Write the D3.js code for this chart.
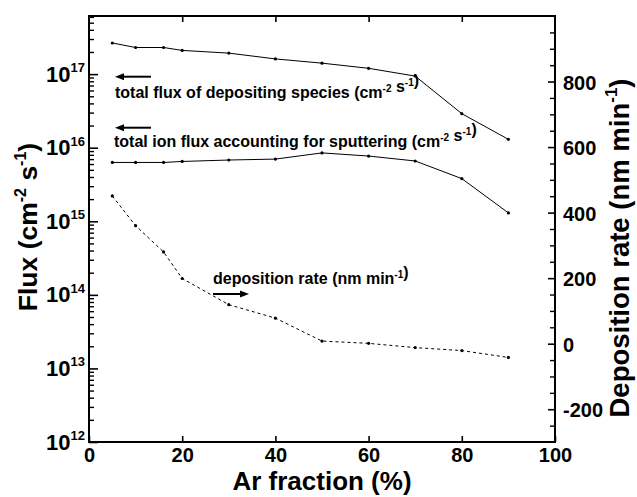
<!DOCTYPE html>
<html>
<head>
<meta charset="utf-8">
<script src="https://cdn.jsdelivr.net/npm/d3@7/dist/d3.min.js"></script>
<style>
  html, body { margin: 0; padding: 0; background: #fff; }
  svg { display: block; font-family: "Liberation Sans", Arial, sans-serif; font-weight: bold; }
</style>
</head>
<body>
<svg id="chart" width="637" height="497"></svg>
<script>
// Ar fraction (%) of each measurement
const arFraction = [5, 10, 16, 20, 30, 40, 50, 60, 70, 80, 90];
// total flux of depositing species (cm^-2 s^-1), left log axis
const depositingFlux = [2.65e17, 2.3e17, 2.3e17, 2.1e17, 1.93e17, 1.61e17, 1.41e17, 1.2e17, 9.4e16, 2.9e16, 1.3e16];
// total ion flux accounting for sputtering (cm^-2 s^-1), left log axis
const ionFlux = [6.3e15, 6.3e15, 6.3e15, 6.5e15, 6.8e15, 7.0e15, 8.5e15, 7.7e15, 6.6e15, 3.8e15, 1.3e15];
// deposition rate (nm min^-1), right linear axis
const depositionRate = [451, 360, 280, 199, 119, 78, 8, 1, -12, -21, -42];

// axis ticks
const xTicks = [0, 20, 40, 60, 80, 100];
const fluxExponents = [12, 13, 14, 15, 16, 17];
const rateTicks = [-200, 0, 200, 400, 600, 800];

const svg = d3.select("#chart");
const m = { left: 89, right: 555, top: 16, bottom: 442 };

const x = d3.scaleLinear().domain([0, 100]).range([m.left, m.right]);
const yL = d3.scaleLog().domain([1e12, Math.pow(10, 17.79)]).range([m.bottom, m.top]);
const yR = d3.scaleLinear().domain([-300, 1000]).range([m.bottom, m.top]);

// ---- axes ----
function strip(g) { g.select(".domain").remove(); }

// bottom
const gx = svg.append("g").attr("transform", `translate(0,${m.bottom})`)
  .call(d3.axisBottom(x).tickValues(xTicks).tickSizeInner(-6).tickSizeOuter(0).tickPadding(6)
    .tickFormat(d => String(d)))
  .call(strip);
gx.selectAll("line").attr("stroke", "#000").attr("stroke-width", 1.6);
gx.selectAll("text").attr("font-size", 20).attr("fill", "#000");

// top
const gxt = svg.append("g").attr("transform", `translate(0,${m.top})`)
  .call(d3.axisTop(x).tickValues(xTicks.filter(v => v > 0 && v < 100)).tickSizeInner(-6).tickSizeOuter(0).tickFormat(""))
  .call(strip);
gxt.selectAll("line").attr("stroke", "#000").attr("stroke-width", 1.6);

// left log axis: minor ticks
const minors = [];
for (let e = 12; e <= 17; e++) for (let k = 2; k <= 9; k++) {
  const v = k * Math.pow(10, e);
  if (v < yL.domain()[1]) minors.push(v);
}
const gyMin = svg.append("g").attr("transform", `translate(${m.left},0)`)
  .call(d3.axisLeft(yL).tickValues(minors).tickSizeInner(-5).tickSizeOuter(0).tickFormat(""))
  .call(strip);
gyMin.selectAll("line").attr("stroke", "#000").attr("stroke-width", 1.4);

// left log axis: majors with power-of-ten labels
const gy = svg.append("g").attr("transform", `translate(${m.left},0)`)
  .call(d3.axisLeft(yL).tickValues(fluxExponents.map(e => Math.pow(10, e))).tickSizeInner(-9).tickSizeOuter(0)
    .tickPadding(4).tickFormat(""))
  .call(strip);
gy.selectAll("line").attr("stroke", "#000").attr("stroke-width", 1.6);
gy.selectAll(".tick text").each(function(d) {
  const t = d3.select(this).attr("fill", "#000").attr("dy", "0.32em").attr("font-size", 22);
  t.append("tspan").text("10");
  t.append("tspan").attr("font-size", 13).attr("dy", -9.5).text(String(Math.round(Math.log10(d))));
});

// right linear axis
const rateMinor = d3.range(-250, 1000, 50).filter(v => rateTicks.indexOf(v) < 0);
const gyrMin = svg.append("g").attr("transform", `translate(${m.right},0)`)
  .call(d3.axisRight(yR).tickValues(rateMinor).tickSizeInner(-5).tickSizeOuter(0).tickFormat(""))
  .call(strip);
gyrMin.selectAll("line").attr("stroke", "#000").attr("stroke-width", 1.4);
const gyr = svg.append("g").attr("transform", `translate(${m.right},0)`)
  .call(d3.axisRight(yR).tickValues(rateTicks).tickSizeInner(-7).tickSizeOuter(0).tickPadding(8)
    .tickFormat(d => String(d)))
  .call(strip);
gyr.selectAll("line").attr("stroke", "#000").attr("stroke-width", 1.6);
gyr.selectAll("text").attr("font-size", 20).attr("dy", "0.38em").attr("fill", "#000");

// frame
svg.append("rect")
  .attr("x", m.left).attr("y", m.top)
  .attr("width", m.right - m.left).attr("height", m.bottom - m.top)
  .attr("fill", "none").attr("stroke", "#000").attr("stroke-width", 2);

// ---- series ----
function series(values, yScale, dash) {
  const pts = arFraction.map((a, i) => [x(a), yScale(values[i])]);
  svg.append("path")
    .attr("d", d3.line()(pts))
    .attr("fill", "none").attr("stroke", "#000").attr("stroke-width", 1)
    .attr("stroke-dasharray", dash || null);
  svg.append("g").selectAll("circle").data(pts).join("circle")
    .attr("cx", d => d[0]).attr("cy", d => d[1]).attr("r", 1.6).attr("fill", "#000");
}
series(depositingFlux, yL);
series(ionFlux, yL);
series(depositionRate, yR, "3,3");

// ---- annotations ----
function arrow(x1, x2, y) {
  // tail at x1, head at x2
  const dir = Math.sign(x2 - x1), hl = 9, hw = 3.5;
  svg.append("line").attr("x1", x1).attr("x2", x2 - dir * hl).attr("y1", y).attr("y2", y)
    .attr("stroke", "#000").attr("stroke-width", 2);
  svg.append("path")
    .attr("d", `M${x2},${y} L${x2 - dir * hl},${y - hw} L${x2 - dir * hl},${y + hw} Z`)
    .attr("fill", "#000");
}
function label(px, py, main, unit, exps) {
  const t = svg.append("text").attr("x", px).attr("y", py).attr("font-size", 16).attr("fill", "#000");
  t.append("tspan").text(main);
  unit.forEach((u, i) => {
    t.append("tspan").text(u);
    t.append("tspan").attr("font-size", 10).attr("dy", -6).text(exps[i]);
    t.append("tspan").attr("dy", 6).text("");
  });
  t.append("tspan").text(")");
}

arrow(151, 115, 76.7);
label(115, 97.5, "total flux of depositing species (", ["cm", " s"], ["-2", "-1"]);
arrow(151, 115, 127.7);
label(114, 146.7, "total ion flux accounting for sputtering (", ["cm", " s"], ["-2", "-1"]);
arrow(213, 249, 294);
label(213, 284, "deposition rate (", ["nm min"], ["-1"]);

// ---- axis titles ----
svg.append("text").attr("x", (m.left + m.right) / 2).attr("y", 490)
  .attr("text-anchor", "middle").attr("font-size", 26).attr("fill", "#000")
  .text("Ar fraction (%)");

const lt = svg.append("text").attr("transform", "translate(37,227) rotate(-90)")
  .attr("text-anchor", "middle").attr("font-size", 26.5).attr("fill", "#000");
lt.append("tspan").text("Flux (cm");
lt.append("tspan").attr("font-size", 16).attr("dy", -11).text("-2");
lt.append("tspan").attr("dy", 11).text(" s");
lt.append("tspan").attr("font-size", 16).attr("dy", -11).text("-1");
lt.append("tspan").attr("dy", 11).text(")");

const rt = svg.append("text").attr("transform", "translate(629,248) rotate(-90)")
  .attr("text-anchor", "middle").attr("font-size", 27.5).attr("fill", "#000");
rt.append("tspan").text("Deposition rate (nm min");
rt.append("tspan").attr("font-size", 17).attr("dy", -12).text("-1");
rt.append("tspan").attr("dy", 12).text(")");
</script>
</body>
</html>
